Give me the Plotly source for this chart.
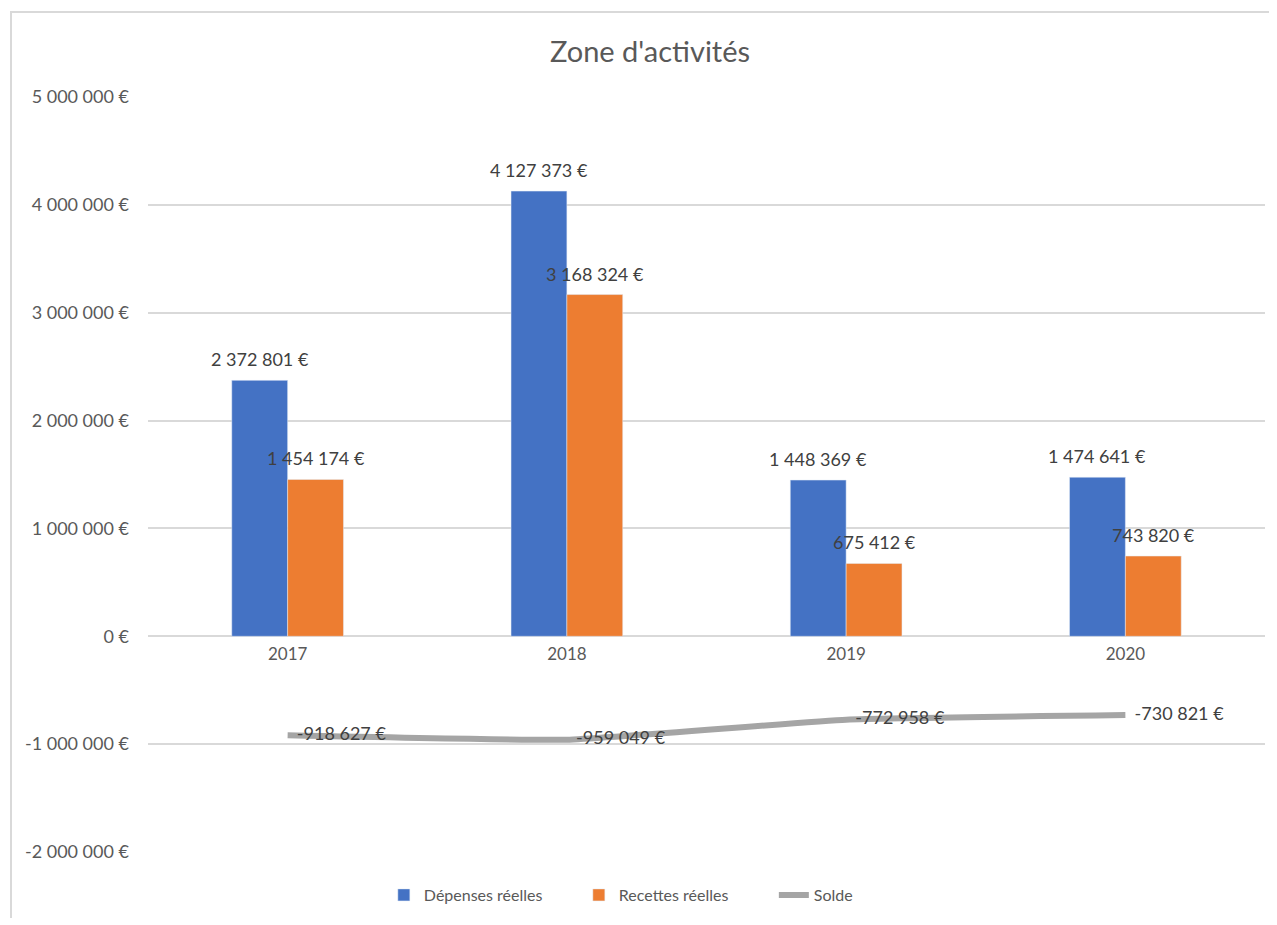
import plotly.graph_objects as go

# Données
annees = ['2017', '2018', '2019', '2020']
depenses = [2372801, 4127373, 1448369, 1474641]
recettes = [1454174, 3168324, 675412, 743820]
solde = [-918627, -959049, -772958, -730821]

y_ticks = [-2000000, -1000000, 0, 1000000, 2000000, 3000000, 4000000, 5000000]

BLEU = '#4472C4'
ORANGE = '#ED7D31'
GRIS = '#A5A5A5'
FONT = 'Lato, "Noto Sans", sans-serif'


def euros(v):
    """Format à la française : 1 234 567 €."""
    s = f"{abs(v):,}".replace(",", "\u00a0")
    return ("-" if v < 0 else "") + s + "\u00a0€"


# la page a une marge de 8 px autour de la figure
W, H = 1262, 910
ML, MR, MT, MB = 140, 5, 89, 66
pw = W - ML - MR
ph = H - MT - MB
BARGAP = 0.6
demi_barre = pw / len(annees) * (1 - BARGAP) / 4  # décalage du centre d'une barre

fig = go.Figure()

fig.add_trace(go.Bar(x=annees, y=depenses, name='Dépenses réelles',
                     marker_color=BLEU))
fig.add_trace(go.Bar(x=annees, y=recettes, name='Recettes réelles',
                     marker_color=ORANGE))
fig.add_trace(go.Scatter(
    x=annees, y=solde, name='Solde',
    mode='lines+text',
    line=dict(color=GRIS, width=6, shape='spline', smoothing=0.35),
    text=["\u00a0\u00a0" + euros(v) for v in solde],
    textposition='middle right',
    textfont=dict(size=18, color='#404040'),
    cliponaxis=False,
))

# étiquettes de données des barres (x = indice de catégorie)
for serie, decal in ((depenses, -demi_barre), (recettes, demi_barre)):
    for i, v in enumerate(serie):
        fig.add_annotation(x=i, y=v, text=euros(v), showarrow=False,
                           xshift=decal, yshift=21, yanchor='middle',
                           font=dict(size=18, color='#404040'))

# cadre du graphique
fig.add_shape(
    type='rect', xref='paper', yref='paper',
    x0=(3 - ML) / pw, x1=(W + 20 - ML) / pw,
    y0=-(H + 20 - MT - ph) / ph, y1=1 + (MT - 4) / ph,
    line=dict(color='#D9D9D9', width=2), layer='below',
)

zero_pos = (0 - (-2000000)) / 7000000

fig.update_layout(
    width=W, height=H,
    margin=dict(l=ML, r=MR, t=MT, b=MB),
    paper_bgcolor='white', plot_bgcolor='white',
    font=dict(family=FONT, color='#595959', size=17),
    title=dict(text="Zone d'activités", x=(650 - 8) / W, xanchor='center',
               y=1 - 44 / H, yanchor='middle',
               font=dict(size=29, color='#595959')),
    barmode='group', bargap=BARGAP, bargroupgap=0,
    showlegend=True,
    legend=dict(orientation='h', x=0.473, xanchor='center',
                y=-43 / ph, yanchor='middle',
                font=dict(size=16, color='#595959'),
                entrywidth=150, entrywidthmode='pixels',
                traceorder='normal'),
    xaxis=dict(type='category', range=[-0.5, len(annees) - 0.5],
               anchor='free', position=zero_pos,
               showline=False, showgrid=False, ticks='',
               tickfont=dict(size=17), ticklabelstandoff=6),
    yaxis=dict(range=[-2000000, 5000000], tickvals=y_ticks,
               ticktext=[euros(v) for v in y_ticks],
               gridcolor='#D9D9D9', gridwidth=1.5,
               zeroline=False, showline=False,
               tickfont=dict(size=18), ticklabelstandoff=18),
)

fig.write_html("out.html")
